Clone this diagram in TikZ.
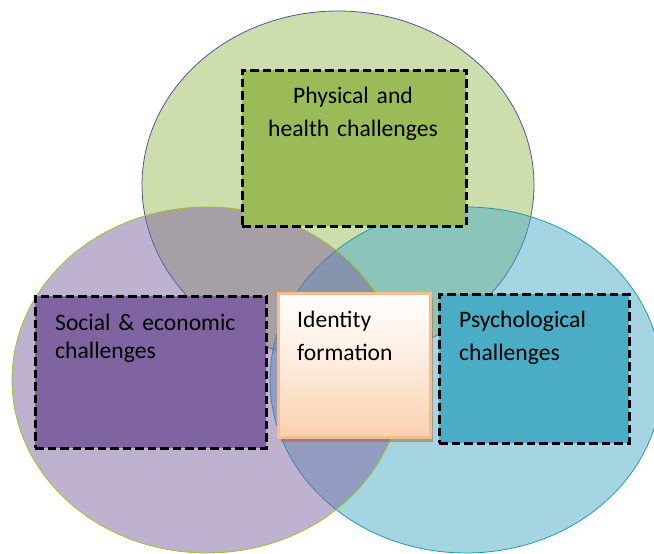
\documentclass[tikz,border=0pt]{standalone}
\usepackage{fontspec}
\setmainfont{Carlito}
\usetikzlibrary{shadows}
\definecolor{topfill}{HTML}{9BBB59}
\definecolor{topline}{HTML}{4B56A8}
\definecolor{leftfill}{HTML}{8064A2}
\definecolor{leftline}{HTML}{9EC41E}
\definecolor{rightfill}{HTML}{4BACC6}
\definecolor{rightline}{HTML}{1E9EA8}
\definecolor{idbottom}{HTML}{FAD0AC}
\definecolor{idmid}{HTML}{FDEBDD}
\definecolor{idline}{HTML}{F9BC8C}
\definecolor{idshadow}{HTML}{A0643C}
\tikzset{
  circ/.style={line width=0.8pt, fill opacity=0.5},
  dbox/.style={draw=black, line width=2.8pt, dash pattern=on 8.5pt off 4pt,
    inner sep=0pt, anchor=north west},
  lbl/.style={inner sep=0pt, text=black},
  lblA/.style={lbl, font=\fontsize{23.6}{33}\selectfont},
  lblB/.style={lbl, font=\fontsize{23.6}{28.5}\selectfont},
}
\begin{document}
\begin{tikzpicture}[x=1pt,y=-1pt]
\useasboundingbox (0,0) rectangle (654,554);
% circles
\draw[circ, draw=topline, fill=topfill] (338,185) ellipse [x radius=196, y radius=174];
\draw[circ, draw=rightline, fill=rightfill] (466,380) ellipse [x radius=196, y radius=173];
\draw[circ, draw=leftline, fill=leftfill] (207,380) ellipse [x radius=195, y radius=173];
% boxes
\node[dbox, fill=topfill, minimum width=224pt, minimum height=156pt] (phys) at (241,69) {};
\node[dbox, fill=leftfill, minimum width=231pt, minimum height=152pt] (soc) at (34,295) {};
\node[dbox, fill=rightfill, minimum width=190pt, minimum height=149pt] (psy) at (438,293) {};
\node[draw=idline, line width=2.5pt, top color=white, bottom color=idbottom,
  middle color=idmid, minimum width=152pt, minimum height=144pt,
  anchor=north west, inner sep=0pt,
  drop shadow={shadow xshift=3pt, shadow yshift=-5pt, fill=idshadow, opacity=0.5}]
  (ident) at (277,292) {};
% texts
\node[lblA, text width=224pt, align=center, anchor=base] (phystext) at (353,103)
  {Physical and\\health challenges};
\node[lblB, text width=215pt, align=left, anchor=base west] (soctext) at (55,330)
  {Social \& economic\\challenges};
\node[lblA, text width=140pt, align=left, anchor=base west] (identtext) at (297,327)
  {Identity\\formation};
\node[lblA, text width=180pt, align=left, anchor=base west] (psytext) at (459,327)
  {Psychological\\challenges};
\end{tikzpicture}
\end{document}
